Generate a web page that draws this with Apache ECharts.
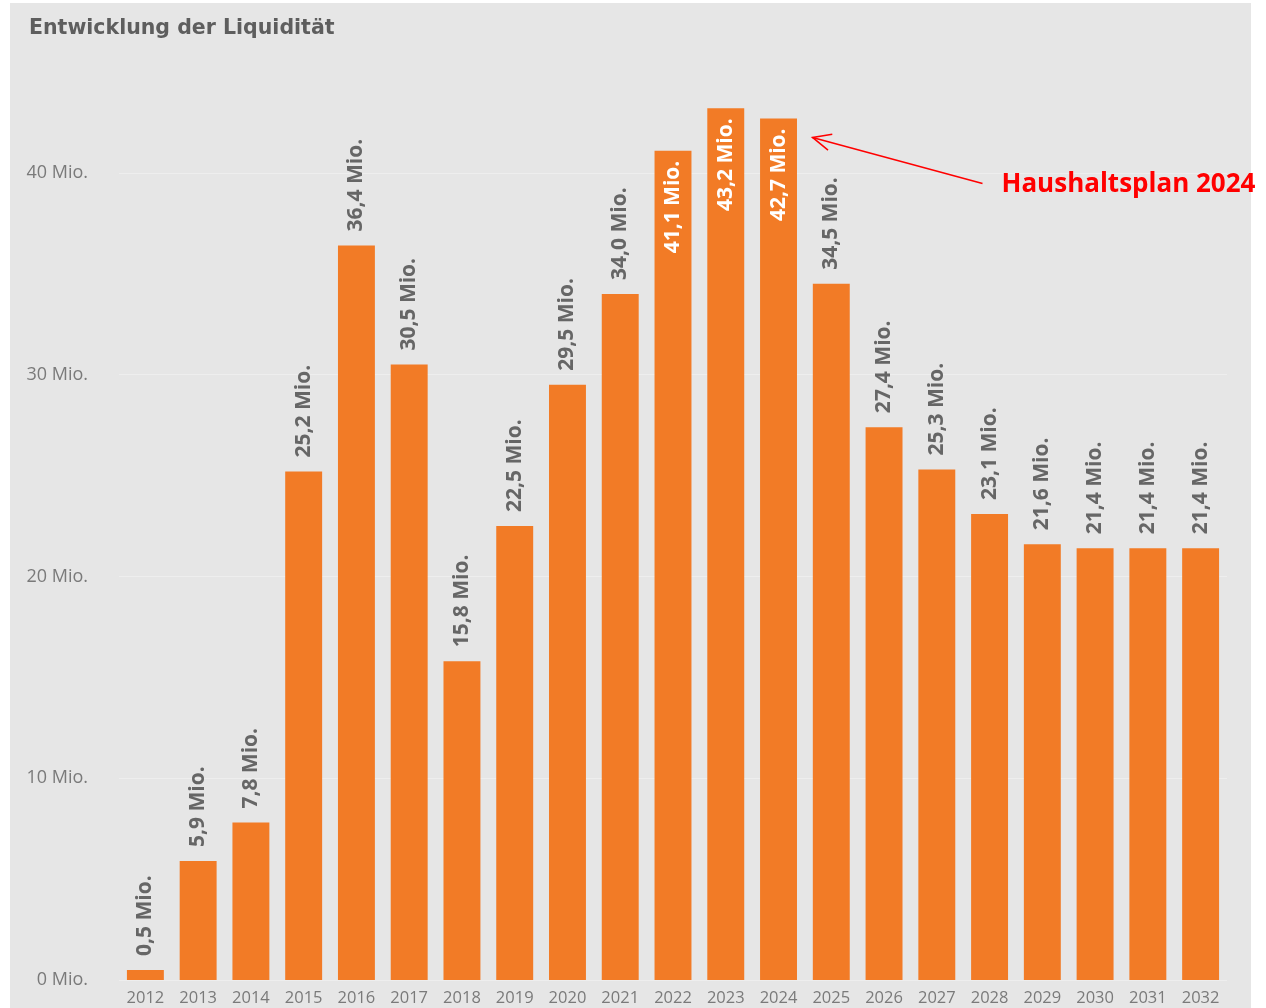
<!DOCTYPE html>
<html><head><meta charset="utf-8">
<script src="https://cdn.jsdelivr.net/npm/echarts@6/dist/echarts.min.js"></script>
<style>html,body{margin:0;padding:0;background:#fff;}#c{width:1266px;height:1008px;}</style>
</head><body><div id="c"></div>
<script>
var years = ['2012','2013','2014','2015','2016','2017','2018','2019','2020','2021','2022','2023','2024','2025','2026','2027','2028','2029','2030','2031','2032'];
var values = [0.5,5.9,7.8,25.2,36.4,30.5,15.8,22.5,29.5,34.0,41.1,43.2,42.7,34.5,27.4,25.3,23.1,21.6,21.4,21.4,21.4];
var insideYears = ['2022','2023','2024'];
var yTicks = [0,10,20,30,40];
var annotationText = 'Haushaltsplan 2024';
var annotationYear = '2024';

function fmt(v){ return v.toFixed(1).replace('.', ',') + ' Mio.'; }

var chart = echarts.init(document.getElementById('c'));
var data = values.map(function(v,i){
  var inside = insideYears.indexOf(years[i]) >= 0;
  return {
    value: v,
    label: inside ? {position:'insideTop', align:'right', distance:10, color:'#ffffff'} :
                    {position:'top', align:'left', distance:14, color:'#666666'}
  };
});
chart.setOption({
  backgroundColor:'#ffffff',
  animation:false,
  title:{text:'Entwicklung der Liquidität', left:24, top:13,
    textStyle:{fontFamily:'DejaVu Sans', fontWeight:'bold', fontSize:20.5, color:'#5e5e5e'}},
  grid:{left:119, right:39, top:72, bottom:28, containLabel:false},
  xAxis:{type:'category', data:years,
    axisLine:{show:false}, axisTick:{show:false},
    axisLabel:{fontFamily:'Open Sans', fontSize:16.5, color:'#7a7a7a', margin:10}},
  yAxis:{type:'value', min:0, max:45, interval:10,
    axisLine:{show:false}, axisTick:{show:false},
    splitLine:{showMaxLine:false, lineStyle:{color:'#eeeeee', width:1}},
    axisLabel:{fontFamily:'Open Sans', fontSize:18, color:'#7a7a7a', margin:31, showMaxLabel:false,
      formatter:function(v){ return yTicks.indexOf(v)>=0 ? v + ' Mio.' : ''; }}},
  series:[{type:'bar', data:data, barCategoryGap:'30%',
    itemStyle:{color:'#f27b26'},
    label:{show:true, rotate:90, verticalAlign:'middle', fontFamily:'Open Sans', fontWeight:'bold', fontSize:21,
      formatter:function(p){ return fmt(p.value); }}}]
});

var idx = years.indexOf(annotationYear);
var tip = chart.convertToPixel({seriesIndex:0}, [idx, values[idx]]);
var tx = tip[0] + 34, ty = tip[1] + 19;
var sx = tx + 170, sy = ty + 46;
var ang = Math.atan2(sy-ty, sx-tx);
var L = 20, a = 0.42;
chart.setOption({graphic:[
  {type:'rect', z:-10, silent:true, shape:{x:10,y:3,width:1241,height:1005}, style:{fill:'#e6e6e6'}},
  {type:'line', z:50, shape:{x1:sx,y1:sy,x2:tx,y2:ty}, style:{stroke:'#ff0000', lineWidth:1.5}},
  {type:'polyline', z:50, shape:{points:[[tx+L*Math.cos(ang-a), ty+L*Math.sin(ang-a)],[tx,ty],[tx+L*Math.cos(ang+a), ty+L*Math.sin(ang+a)]]}, style:{stroke:'#ff0000', lineWidth:1.5, fill:null}},
  {type:'text', z:50, x:sx+19, y:sy+1, style:{text:annotationText, fill:'#ff0000', fontFamily:'Open Sans', fontWeight:'bold', fontSize:26, verticalAlign:'middle', align:'left'}}
]});
</script></body></html>
